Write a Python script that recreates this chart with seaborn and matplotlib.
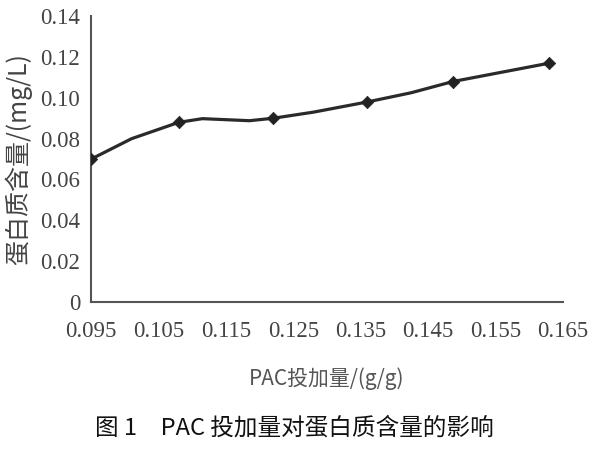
import pandas as pd
import matplotlib.pyplot as plt
import seaborn as sns

# 曲线上读取的点（含平滑段的中间点）
pac_dose = [0.095, 0.101, 0.108, 0.1115, 0.1185, 0.122, 0.128, 0.136, 0.1425, 0.1487, 0.163]
protein = [0.070, 0.080, 0.088, 0.0898, 0.0888, 0.090, 0.093, 0.098, 0.1025, 0.108, 0.117]

# 带菱形标记的实测点
marker_dose = [0.095, 0.108, 0.122, 0.136, 0.1487, 0.163]
marker_protein = [0.070, 0.088, 0.090, 0.098, 0.108, 0.117]

x_ticks = [0.095, 0.105, 0.115, 0.125, 0.135, 0.145, 0.155, 0.165]
y_ticks = [0, 0.02, 0.04, 0.06, 0.08, 0.10, 0.12, 0.14]

sns.set_style("white")
plt.rcParams['font.family'] = ['Noto Sans CJK SC', 'DejaVu Sans']

df = pd.DataFrame({'dose': pac_dose, 'protein': protein})
df_m = pd.DataFrame({'dose': marker_dose, 'protein': marker_protein})

fig = plt.figure(figsize=(6, 4.5), dpi=100)
ax = fig.add_axes([0.152, 0.329, 0.786, 0.635])

sns.lineplot(data=df, x='dose', y='protein', ax=ax, color='#2a2a2a',
             linewidth=2.3, estimator=None, sort=False,
             solid_joinstyle='round', solid_capstyle='round')
sns.scatterplot(data=df_m, x='dose', y='protein', ax=ax, marker='D',
                color='#222222', s=40, edgecolor='#222222', zorder=3)

ax.set_xlim(0.095, 0.165)
ax.set_ylim(0, 0.14)
ax.set_xticks(x_ticks)
ax.set_yticks(y_ticks)
ax.set_xticklabels([f"{v:.3f}" for v in x_ticks], family='Liberation Serif',
                   fontsize=16.5, color='#444444')
ax.set_yticklabels(['0'] + [f"{v:.2f}" for v in y_ticks[1:]], family='Liberation Serif',
                   fontsize=16.5, color='#444444')

for side in ['top', 'right']:
    ax.spines[side].set_visible(False)
for side in ['left', 'bottom']:
    ax.spines[side].set_color('#555555')
    ax.spines[side].set_linewidth(1.5)
ax.tick_params(direction='in', length=6, width=1.3, color='#555555')
ax.tick_params(axis='x', pad=14)
ax.tick_params(axis='y', pad=8)

ax.set_xlabel('PAC投加量/(g/g)', fontsize=15, color='#555555', labelpad=18)
ax.set_ylabel('蛋白质含量/(mg/L)', fontsize=18, color='#444444', labelpad=6)

fig.text(0.49, 0.048, '图 1　PAC 投加量对蛋白质含量的影响', ha='center', va='center',
         fontsize=17, fontweight='medium', color='#111111')

fig.savefig('out.png', dpi=100)
